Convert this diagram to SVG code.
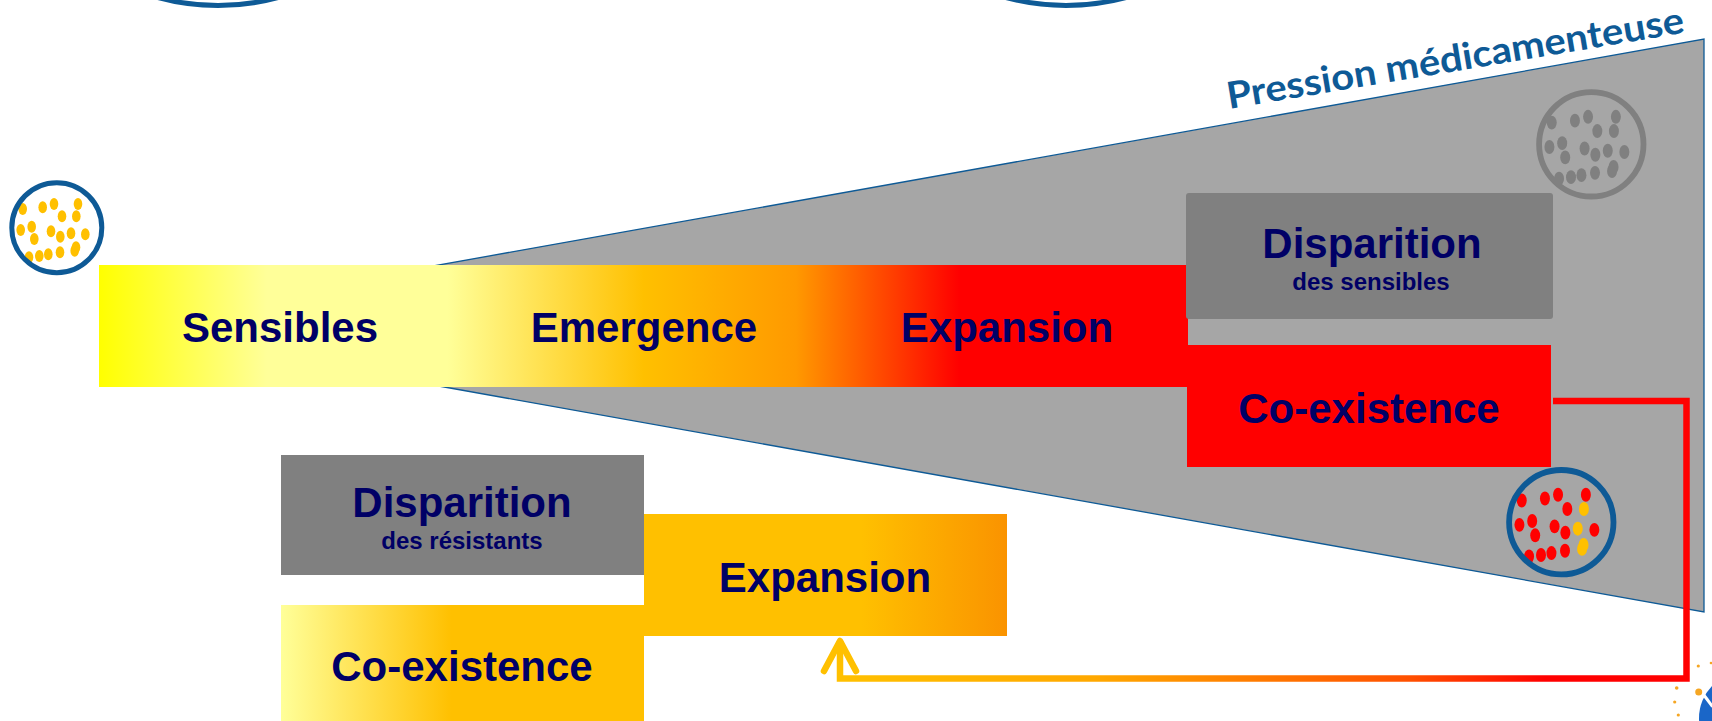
<svg xmlns="http://www.w3.org/2000/svg" xmlns:xlink="http://www.w3.org/1999/xlink" width="1712" height="721" viewBox="0 0 1712 721">
  <style>
    .lbl { font-family: "Liberation Sans", Arial, sans-serif; font-weight: bold; fill: #000066; text-anchor: middle; }
    .big { font-size: 42px; }
    .small { font-size: 24px; }
    .ring { fill: none; stroke: #0E5A96; stroke-width: 5; }
    .ring-gray { fill: none; stroke: #808080; stroke-width: 5; }
    .grey-box { fill: #808080; }
    .title { font-family: Lato, "Open Sans", sans-serif; font-weight: bold; font-size: 37px; fill: #0E5A96; }
  </style>
  <defs>
    <linearGradient id="gBar" gradientUnits="userSpaceOnUse" x1="99" y1="0" x2="1188" y2="0">
      <stop offset="0" stop-color="#FFFF00"/>
      <stop offset="0.154" stop-color="#FFFF99"/>
      <stop offset="0.32" stop-color="#FFFF99"/>
      <stop offset="0.5" stop-color="#FFC000"/>
      <stop offset="0.64" stop-color="#FF9900"/>
      <stop offset="0.79" stop-color="#FF0000"/>
      <stop offset="1" stop-color="#FF0000"/>
    </linearGradient>
    <linearGradient id="gExp" gradientUnits="userSpaceOnUse" x1="644" y1="0" x2="1007" y2="0">
      <stop offset="0" stop-color="#FFC000"/>
      <stop offset="0.6" stop-color="#FFC000"/>
      <stop offset="1" stop-color="#FA9300"/>
    </linearGradient>
    <linearGradient id="gCo" gradientUnits="userSpaceOnUse" x1="281" y1="0" x2="644" y2="0">
      <stop offset="0" stop-color="#FFFF99"/>
      <stop offset="0.47" stop-color="#FFC000"/>
      <stop offset="1" stop-color="#FFC000"/>
    </linearGradient>
    <linearGradient id="gLink" gradientUnits="userSpaceOnUse" x1="840" y1="0" x2="1690" y2="0">
      <stop offset="0" stop-color="#FFC000"/>
      <stop offset="0.3" stop-color="#FFA800"/>
      <stop offset="0.67" stop-color="#FF5000"/>
      <stop offset="0.83" stop-color="#FF0000"/>
      <stop offset="1" stop-color="#FF0000"/>
    </linearGradient>
    <marker id="chevron" markerUnits="userSpaceOnUse" viewBox="-40 -22 46 44" markerWidth="46" markerHeight="44" refX="0" refY="0" orient="auto" overflow="visible">
      <path d="M-30,-16 L0,0 L-30,16" fill="none" stroke="#FFC000" stroke-width="6.5" stroke-linecap="round" stroke-linejoin="round"/>
    </marker>
    <!-- bacteria dots of a culture dish, relative to its centre -->
    <g id="dotsA">
      <ellipse cx="-34.1" cy="-18.7" rx="4.3" ry="6"/>
      <ellipse cx="-14.1" cy="-20.4" rx="4.3" ry="6"/>
      <ellipse cx="-2.8" cy="-23.7" rx="4.3" ry="6"/>
      <ellipse cx="21.2" cy="-23.7" rx="4.3" ry="6"/>
      <ellipse cx="5.2" cy="-11.4" rx="4.3" ry="6"/>
      <ellipse cx="-36.1" cy="2.3" rx="4.3" ry="6"/>
      <ellipse cx="-25.1" cy="-1" rx="4.3" ry="6"/>
      <ellipse cx="-22.5" cy="11.3" rx="4.3" ry="6"/>
      <ellipse cx="-5.8" cy="3.6" rx="4.3" ry="6"/>
      <ellipse cx="3.5" cy="9" rx="4.3" ry="6"/>
      <ellipse cx="28.5" cy="6.6" rx="4.3" ry="6"/>
      <ellipse cx="-27.8" cy="29.6" rx="4.3" ry="6"/>
      <ellipse cx="-17.5" cy="28.3" rx="4.3" ry="6"/>
      <ellipse cx="-8.5" cy="26.6" rx="4.3" ry="6"/>
      <ellipse cx="3.2" cy="24.6" rx="4.3" ry="6"/>
    </g>
    <g id="dotsB">
      <ellipse cx="19.5" cy="-11.4" rx="4.3" ry="6"/>
      <ellipse cx="14.2" cy="5.6" rx="4.3" ry="6"/>
      <ellipse cx="17.9" cy="23" rx="4.3" ry="6"/>
      <ellipse cx="19.2" cy="19.6" rx="4.3" ry="6"/>
    </g>
  </defs>

  <rect width="1712" height="721" fill="#FFFFFF"/>

  <!-- dishes cut by the top edge -->
  <circle cx="218" cy="-224.5" r="230" class="ring"/>
  <circle cx="1066" cy="-224.5" r="230" class="ring"/>

  <!-- drug pressure wedge -->
  <g id="pression">
    <polygon points="100,325.5 1704,39 1704,612" fill="#A6A6A6" stroke="#0E5A96" stroke-width="1.3"/>
    <text class="title" x="1229" y="109" textLength="463" lengthAdjust="spacingAndGlyphs" transform="rotate(-9.5 1229 109)">Pression médicamenteuse</text>
  </g>

  <!-- culture dishes -->
  <g id="dish-sensibles" transform="translate(56.8 227.7)">
    <use xlink:href="#dotsA" fill="#FFC000"/>
    <use xlink:href="#dotsB" fill="#FFC000"/>
    <circle r="45" class="ring"/>
  </g>
  <g id="dish-disparition" transform="translate(1591.3 144.3) scale(1.16)">
    <use xlink:href="#dotsA" fill="#808080"/>
    <use xlink:href="#dotsB" fill="#808080"/>
    <circle r="45" class="ring-gray"/>
  </g>
  <g id="dish-coexistence" transform="translate(1561.3 522.2) scale(1.16)">
    <use xlink:href="#dotsA" fill="#FF0000"/>
    <use xlink:href="#dotsB" fill="#FFC000"/>
    <circle r="45" class="ring"/>
  </g>

  <!-- main band: under drug pressure -->
  <g id="bande">
    <rect x="99" y="265" width="1089" height="122" fill="url(#gBar)"/>
    <text class="lbl big" x="280" y="342">Sensibles</text>
    <text class="lbl big" x="644" y="342">Emergence</text>
    <text class="lbl big" x="1007" y="342">Expansion</text>
  </g>
  <g id="disparition-sensibles">
    <rect x="1186" y="193" width="367" height="126" rx="3" class="grey-box"/>
    <text class="lbl big" x="1372" y="258">Disparition</text>
    <text class="lbl small" x="1371" y="290">des sensibles</text>
  </g>
  <g id="coexistence-pression">
    <rect x="1187" y="345" width="364" height="122" fill="#FF0000"/>
    <text class="lbl big" x="1369" y="423">Co-existence</text>
  </g>

  <!-- without drug pressure -->
  <g id="disparition-resistants">
    <rect x="281" y="455" width="363" height="120" class="grey-box"/>
    <text class="lbl big" x="462" y="517">Disparition</text>
    <text class="lbl small" x="462" y="549">des résistants</text>
  </g>
  <g id="coexistence">
    <rect x="281" y="605" width="363" height="130" fill="url(#gCo)"/>
    <text class="lbl big" x="462" y="681">Co-existence</text>
  </g>
  <g id="expansion">
    <rect x="644" y="514" width="363" height="122" fill="url(#gExp)"/>
    <text class="lbl big" x="825" y="592">Expansion</text>
  </g>

  <!-- connectors -->
  <g id="connectors">
    <path d="M1553,401 H1686.5 V678.5 H840 V641" fill="none" stroke="url(#gLink)" stroke-width="6.5" stroke-linejoin="miter" marker-end="url(#chevron)"/>
  </g>

  <!-- logo corner -->
  <g id="logo">
    <circle cx="1745" cy="718" r="46" fill="#1A66C8"/>
    <path d="M1703,694 Q1707,699 1712,706" fill="none" stroke="#FFFFFF" stroke-width="3" stroke-linecap="round"/>
    <g fill="#F5A623">
      <circle cx="1698.7" cy="692" r="3.5"/>
      <circle cx="1698.3" cy="666" r="1.6"/>
      <circle cx="1711" cy="663" r="1.3"/>
      <circle cx="1676.7" cy="688" r="1.8"/>
      <circle cx="1674.7" cy="702" r="1.6"/>
      <circle cx="1678.3" cy="715" r="1.6"/>
    </g>
  </g>
</svg>
